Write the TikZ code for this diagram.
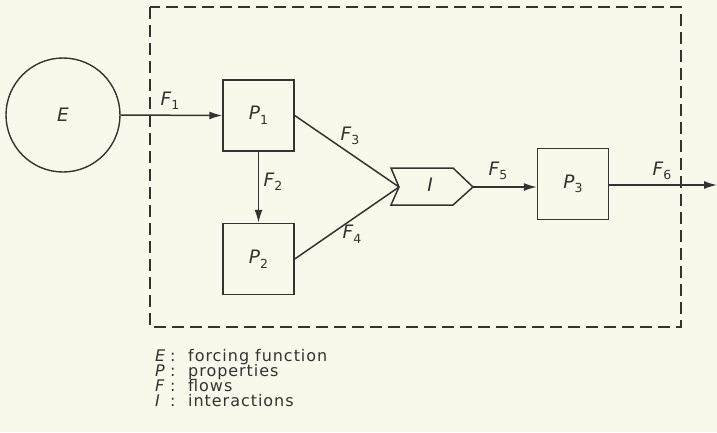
\documentclass[tikz,border=0pt]{standalone}
\usepackage{fontspec}
\setmainfont{DejaVu Sans}
\newfontfamily\legfont[LetterSpace=6]{DejaVu Sans}
\usetikzlibrary{arrows.meta}
\definecolor{bg}{rgb}{0.973,0.976,0.918}
\definecolor{ink}{rgb}{0.2,0.2,0.2}
\newcommand{\vsym}[2]{\textit{#1}\raisebox{-4.5pt}{\fontsize{12.5}{13}\selectfont #2}}
\begin{document}
\begin{tikzpicture}[x=1pt,y=-1pt,
  ln/.style={draw=ink,line width=1.5pt},
  arr/.style={ln,-{Latex[length=13pt,width=8pt]}},
  box/.style={draw=ink,line width=1.4pt,minimum width=71pt,minimum height=71pt,inner sep=0pt},
  lab/.style={font=\fontsize{18.5}{20}\selectfont,text=ink,inner sep=0pt},
  leg/.style={font=\legfont\fontsize{16}{18}\selectfont,text=ink,anchor=base west,inner sep=0pt}]
\fill[bg] (0,0) rectangle (717,432);
\useasboundingbox (0,0) rectangle (717,432);
% system boundary
\draw[draw=ink,line width=1.2pt,dash pattern=on 12pt off 6pt] (150,7) rectangle (681,327);
% nodes
\node[circle,draw=ink,line width=1.4pt,minimum size=114pt,inner sep=0pt,lab] (E) at (63,115) {\textit{E}};
\node[box,lab] (P1) at (258.5,115.5) {\vsym{P}{1}};
\node[box,lab] (P2) at (258.5,259) {\vsym{P}{2}};
\node[box,lab] (P3) at (573,184) {\vsym{P}{3}};
\coordinate (In) at (399,187);
\coordinate (Iout) at (473,187);
\draw[ln,line join=miter] (391,168) -- (453,168) -- (Iout) -- (453,205) -- (391,205) -- (In) -- cycle;
\node[lab] (I) at (430,185) {\textit{I}};
\coordinate (out) at (717,185);
% connectors
\draw[arr] (E.east) -- (P1.west);
\draw[arr] (P1.south) -- (P2.north);
\draw[ln] (P1.east) -- (In);
\draw[ln] (P2.east) -- (In);
\draw[arr] (Iout) -- (P3.west |- Iout);
\draw[arr] (P3.east |- out) -- (out);
% flow labels
\node[lab] (F1) at (170,101) {\vsym{F}{1}};
\node[lab] (F2) at (273,182) {\vsym{F}{2}};
\node[lab] (F3) at (350,136) {\vsym{F}{3}};
\node[lab] (F4) at (352,234) {\vsym{F}{4}};
\node[lab] (F5) at (498,171) {\vsym{F}{5}};
\node[lab] (F6) at (662,171) {\vsym{F}{6}};
% legend
\node[leg] (lE) at (155,361) {\textit{E}};
\node[leg] (cE) at (170,361) {:};
\node[leg] (tE) at (188,361) {forcing function};
\node[leg] (lP) at (155,376) {\textit{P}};
\node[leg] (cP) at (170,376) {:};
\node[leg] (tP) at (188,376) {properties};
\node[leg] (lF) at (155,391) {\textit{F}};
\node[leg] (cF) at (170,391) {:};
\node[leg] (tF) at (188,391) {flows};
\node[leg] (lI) at (155,406) {\textit{I}};
\node[leg] (cI) at (170,406) {:};
\node[leg] (tI) at (188,406) {interactions};
\end{tikzpicture}
\end{document}
